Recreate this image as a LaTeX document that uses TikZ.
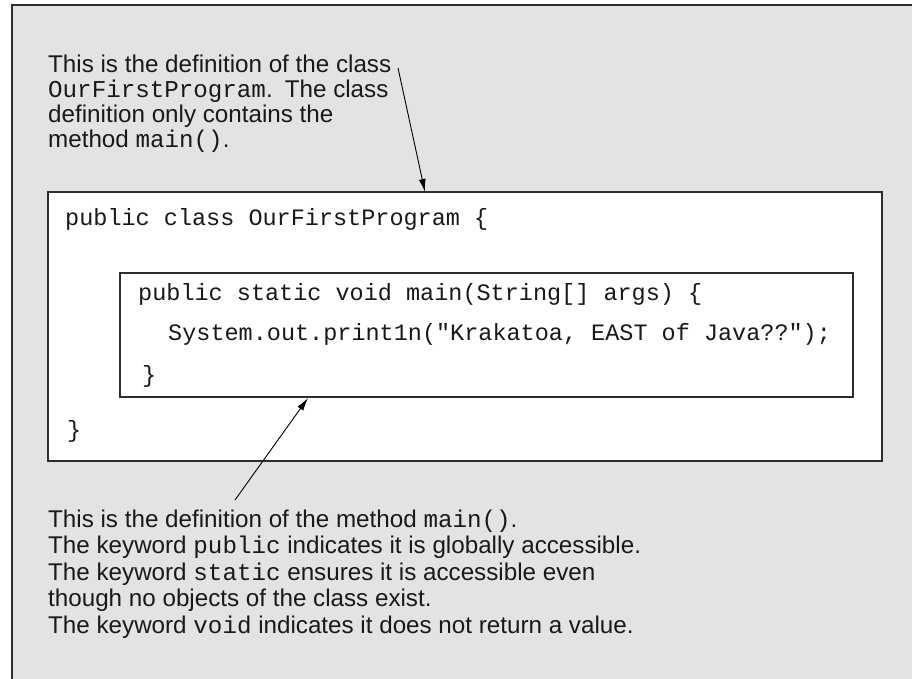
\documentclass[tikz,border=0pt]{standalone}
\usepackage{fontspec}
\setmainfont{Liberation Sans}
\setmonofont{Liberation Mono}
\usetikzlibrary{arrows.meta}

\definecolor{panelgray}{RGB}{227,227,227}
\definecolor{edgegray}{RGB}{45,45,45}

\tikzset{
  codebox/.style={draw=edgegray, line width=1.2pt, fill=white},
  note/.style={anchor=north west, align=left, inner sep=0pt, text=black!90},
  code/.style={anchor=base west, inner sep=0pt, text=black!90,
    font=\fontsize{23.5}{25}\selectfont\ttfamily},
  pointer/.style={-{Latex[length=13pt,width=7pt]}, line width=0.9pt}
}

\begin{document}
\begin{tikzpicture}[x=1pt, y=-1pt]
    \clip (0,0) rectangle (912,679);
    \fill[white] (0,0) rectangle (912,679);
    \draw[draw=edgegray, line width=1.5pt, fill=panelgray] (12,5) rectangle (940,700);

    % the class and the method
    \draw[codebox] (48,192) rectangle (882,461);
    \draw[codebox] (120,273) rectangle (853,397);

    \node[code] (classline) at (65,225) {public class OurFirstProgram \{};
    \node[code] (mainline) at (138,300) {public static void main(String[] args) \{};
    \node[code] (printline) at (168,340) {System.out.print1n("Krakatoa, EAST of Java??");};
    \node[code] (mainclose) at (142,382) {\}};
    \node[code] (classclose) at (67,437) {\}};

    % notes
    \node[note, font=\fontsize{24.2}{25}\selectfont] (classnote) at (48,54.3)
      {This is the definition of the class\\
       \texttt{OurFirstProgram}.\enspace The class\\
       definition only contains the\\
       method \texttt{main()}.};

    \node[note, font=\fontsize{24.2}{26.5}\selectfont] (mainnote) at (48,509.3)
      {This is the definition of the method \texttt{main()}.\\
       The keyword \texttt{public} indicates it is globally accessible.\\
       The keyword \texttt{static} ensures it is accessible even\\
       though no objects of the class exist.\\
       The keyword \texttt{void} indicates it does not return a value.};

    \coordinate (tail1) at (398,68);
    \coordinate (head1) at (425,192);
    \coordinate (tail2) at (235,500);
    \coordinate (head2) at (308,398);
    \draw[pointer] (tail1) -- (head1);
    \draw[pointer] (tail2) -- (head2);
\end{tikzpicture}
\end{document}
